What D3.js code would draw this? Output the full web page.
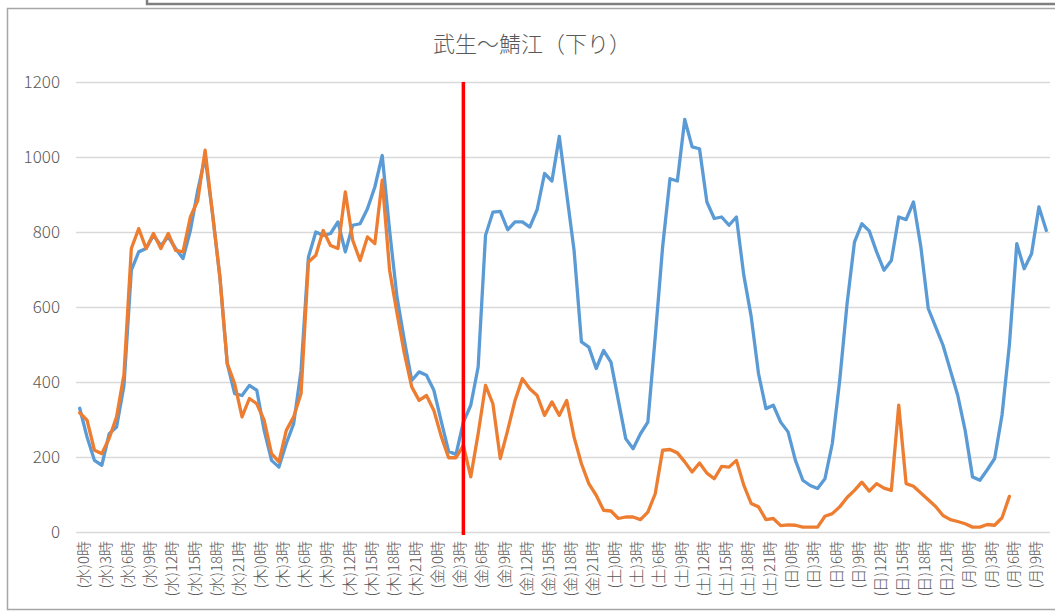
<!DOCTYPE html>
<html>
<head>
<meta charset="utf-8">
<script src="https://cdn.jsdelivr.net/npm/d3@7/dist/d3.min.js"></script>
<style>
  body { margin: 0; background: #fff; }
  text { font-family: "Noto Sans CJK JP", "Noto Sans", sans-serif; }
</style>
</head>
<body>
<div id="chart"></div>
<script>
// days shown on the category axis, one category per hour
var days = ["水", "木", "金", "土", "日", "月"];
var lastDayHours = 12;   // (月) runs 0時..11時

var categories = [];
days.forEach(function(d, k) {
    var n = (k == days.length - 1) ? lastDayHours : 24;
    for (var h = 0; h < n; h++) categories.push("(" + d + ")" + h + "時");
});

// only every third hour gets a label
var tickLabels = categories.filter(function(c, i) { return i % 3 == 0; });

var yTicks = [0, 200, 400, 600, 800, 1000, 1200];

// blue series
var seriesBlue = [
    330, 253, 191, 178, 262, 280, 390, 698, 747, 756, 791, 764, 787, 756, 729, 804, 911, 1000, 849, 680, 449, 369, 364, 391,
    378, 271, 191, 173, 236, 289, 431, 733, 800, 791, 796, 827, 747, 818, 822, 862, 920, 1004, 804, 627, 511, 404, 427, 418,
    378, 295, 215, 207, 293, 338, 440, 791, 853, 855, 806, 827, 827, 813, 860, 956, 936, 1055, 902, 751, 507, 493, 436, 484,
    453, 351, 249, 222, 262, 293, 520, 760, 942, 936, 1100, 1027, 1022, 880, 836, 840, 818, 840, 685, 575, 422, 329, 338, 293,
    267, 191, 138, 124, 116, 142, 236, 404, 609, 773, 822, 803, 747, 698, 724, 840, 833, 880, 760, 596, 547, 498, 431, 364,
    271, 147, 138, 166, 196, 312, 500, 769, 702, 742, 867, 804
];

// orange series (ends at (月)6時)
var seriesOrange = [
    318, 298, 218, 209, 250, 307, 420, 756, 809, 756, 796, 756, 796, 751, 747, 840, 884, 1018, 849, 680, 449, 396, 307, 356,
    342, 298, 209, 187, 271, 307, 369, 720, 738, 804, 764, 756, 907, 778, 724, 787, 769, 938, 698, 584, 476, 387, 351, 364,
    324, 255, 198, 198, 231, 147, 262, 391, 342, 196, 271, 351, 409, 382, 364, 311, 347, 311, 351, 253, 182, 129, 98, 58,
    56, 36, 40, 40, 33, 53, 102, 218, 220, 211, 187, 160, 184, 157, 142, 175, 173, 191, 125, 76, 67, 33, 36, 17,
    19, 18, 13, 13, 13, 42, 49, 67, 92, 111, 133, 109, 129, 117, 111, 338, 129, 122, 104, 86, 68, 44, 33, 28,
    22, 13, 13, 20, 18, 38, 95
];

// the red vertical marker sits on this hour
var markerCategory = "(金)4時";

var drawChart = (function() {

    var W = 1055, H = 613;
    var plot = { left: 76, right: 1050, top: 82, bottom: 532 };

    //frame lines of the sheet around the chart
    function drawFrames(svg) {
        svg.append("rect")
            .attr("x", 147).attr("y", -10)
            .attr("width", 1000).attr("height", 14)
            .style("fill", "none")
            .style("stroke", "#7f7f7f")
            .style("stroke-width", 2.5);
        svg.append("rect")
            .attr("x", 7.5).attr("y", 8.5)
            .attr("width", 1100).attr("height", 601)
            .style("fill", "#fff")
            .style("stroke", "#a6a6a6")
            .style("stroke-width", 1.5);
    }

    function drawTitle(svg) {
        svg.append("text")
            .attr("x", 532).attr("y", 52)
            .attr("text-anchor", "middle")
            .style("font-size", "22px")
            .style("font-weight", 300)
            .style("fill", "#595959")
            .text("武生～鯖江（下り）");
    }

    //gridlines and y labels
    function drawYAxis(svg, y) {
        var g = svg.append("g");
        g.selectAll("line").data(yTicks).enter().append("line")
            .attr("x1", plot.left).attr("x2", plot.right)
            .attr("y1", function(d) { return Math.round(y(d)) + 0.5; })
            .attr("y2", function(d) { return Math.round(y(d)) + 0.5; })
            .style("stroke", "#d9d9d9")
            .style("stroke-width", 1.3);
        g.selectAll("text").data(yTicks).enter().append("text")
            .attr("x", 60)
            .attr("y", function(d) { return y(d); })
            .attr("dy", "0.35em")
            .attr("text-anchor", "end")
            .style("font-size", "17px")
            .style("font-weight", 300)
            .style("fill", "#595959")
            .text(function(d) { return d; });
    }

    //rotated hour labels under the axis
    function drawXAxis(svg, x) {
        var g = svg.append("g");
        g.selectAll("text").data(tickLabels).enter().append("text")
            .attr("transform", function(d) {
                return "translate(" + (x(d) + 4) + ",541) rotate(-90)";
            })
            .attr("dy", "0.35em")
            .attr("text-anchor", "end")
            .style("font-size", "15px")
            .style("font-weight", 300)
            .style("fill", "#595959")
            .text(function(d) { return d; });
    }

    function drawLine(svg, x, y, values, color) {
        var line = d3.line()
            .x(function(d, i) { return x(categories[i]); })
            .y(function(d) { return y(d); });
        svg.append("path")
            .datum(values)
            .attr("d", line)
            .style("fill", "none")
            .style("stroke", color)
            .style("stroke-width", 3.3)
            .style("stroke-linejoin", "round")
            .style("stroke-linecap", "round");
    }

    function drawMarker(svg, x, y) {
        svg.append("line")
            .attr("x1", x(markerCategory)).attr("x2", x(markerCategory))
            .attr("y1", y(1200)).attr("y2", y(0) + 3)
            .style("stroke", "#ff0000")
            .style("stroke-width", 3.5);
    }

    return {
        render: function(placement) {
            d3.select(placement).html("");
            var svg = d3.select(placement).append("svg")
                .attr("width", W).attr("height", H);

            var x = d3.scalePoint()
                .domain(categories)
                .range([plot.left, plot.right])
                .padding(0.5);
            var y = d3.scaleLinear()
                .domain([0, 1200])
                .range([plot.bottom, plot.top]);

            drawFrames(svg);
            drawTitle(svg);
            drawYAxis(svg, y);
            drawXAxis(svg, x);
            drawLine(svg, x, y, seriesBlue, "#5b9bd5");
            drawLine(svg, x, y, seriesOrange, "#ed7d31");
            drawMarker(svg, x, y);
        }
    };
})();

drawChart.render("#chart");
</script>
</body>
</html>
